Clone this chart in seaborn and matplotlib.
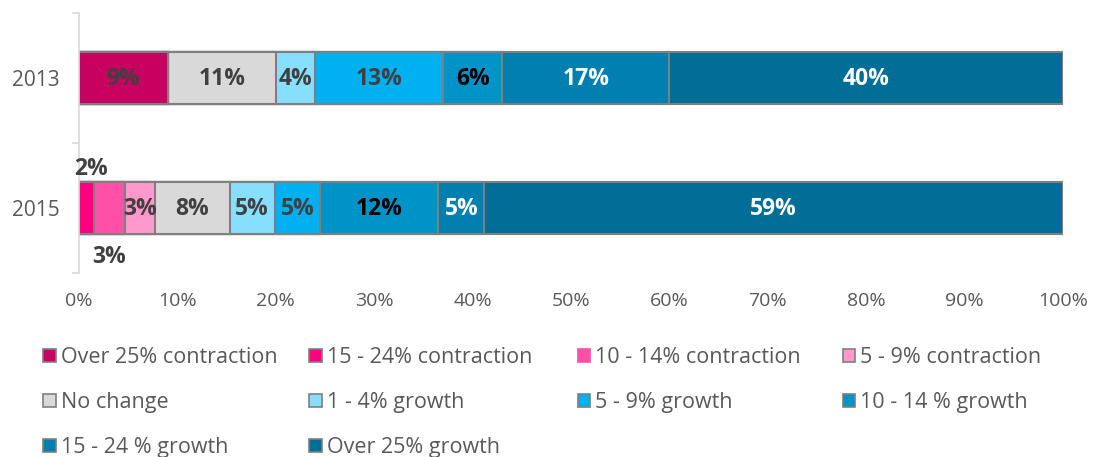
import numpy as np
import pandas as pd
import matplotlib
matplotlib.use("Agg")
import matplotlib.pyplot as plt
from matplotlib.patches import Patch
import seaborn as sns

# Survey years (rows of the chart)
years = ["2013", "2015"]

# Share of respondents per expected change band, in percent
series_names = [
    "Over 25% contraction",
    "15 - 24% contraction",
    "10 - 14% contraction",
    "5 - 9% contraction",
    "No change",
    "1 - 4% growth",
    "5 - 9% growth",
    "10 - 14 % growth",
    "15 - 24 % growth",
    "Over 25% growth",
]
values_2013 = [9, 0, 0, 0, 11, 4, 13, 6, 17, 40]
values_2015 = [0, 1.5, 3.2, 3.0, 7.6, 4.6, 4.6, 12.0, 4.7, 58.8]

colors = [
    "#C8005F", "#FF0080", "#FF4FA7", "#FF99CC", "#D9D9D9",
    "#87DFFF", "#00B0F0", "#0093C8", "#0080B0", "#006E96",
]
label_colors = [
    "#404040", "#404040", "#404040", "#404040", "#404040",
    "#404040", "#404040", "#000000", "#FFFFFF", "#FFFFFF",
]
xtick_values = list(range(0, 101, 10))

sns.set_theme(style="white")
plt.rcParams["font.family"] = ["Open Sans", "DejaVu Sans"]

fig = plt.figure(figsize=(10.95, 4.57), dpi=100)
ax = fig.add_axes([0.0722, 0.4026, 0.8986, 0.569])

vals = np.array([values_2013, values_2015], dtype=float)
cum = np.cumsum(vals, axis=1)
left = cum - vals

# Stack by layering cumulative bars, widest first
for j in range(len(series_names) - 1, -1, -1):
    df = pd.DataFrame({"year": years, "cum": cum[:, j]})
    sns.barplot(data=df, x="cum", y="year", orient="h", color=colors[j],
                saturation=1, width=0.4, edgecolor="#7F7F7F", linewidth=1.5,
                ax=ax, order=years)

# Value labels
bold = dict(fontsize=16.5, fontweight="bold", ha="center", va="center")
for i in range(len(years)):
    for j in range(len(series_names)):
        v = vals[i, j]
        if v <= 0:
            continue
        xc = left[i, j] + v / 2
        txt = f"{v:.0f}%"
        if i == 1 and j == 1:
            ax.text(xc + 0.5, i - 0.30, txt, color="#404040", **bold)
        elif i == 1 and j == 2:
            ax.text(xc, i + 0.375, txt, color="#404040", **bold)
        else:
            ax.text(xc, i + 0.01, txt, color=label_colors[j], **bold)

ax.set_xlim(0, 100)
ax.set_ylim(1.5, -0.5)
ax.set_xticks(xtick_values)
ax.set_xticklabels([f"{t}%" for t in xtick_values])
ax.set_xlabel("")
ax.set_ylabel("")
ax.tick_params(axis="x", length=0, pad=14, labelsize=14, labelcolor="#595959")
ax.tick_params(axis="y", which="major", length=0, pad=14, labelsize=15,
               labelcolor="#595959")
ax.set_yticks([-0.5, 0.5, 1.5], minor=True)
ax.tick_params(axis="y", which="minor", length=5, width=1.2, color="#D9D9D9",
               left=True)
for s in ["top", "right", "bottom"]:
    ax.spines[s].set_visible(False)
ax.spines["left"].set_color("#D9D9D9")
ax.spines["left"].set_linewidth(1.2)

# Legend: four equal-width columns, filled row by row
handles = [Patch(facecolor=c, edgecolor="#7F7F7F", linewidth=1.2) for c in colors]
handles[2] = Patch(facecolor=colors[2], edgecolor=colors[2], linewidth=1.2)
col_x = [0.0395, 0.2825, 0.5275, 0.7695]
for c in range(4):
    idx = list(range(c, len(series_names), 4))
    fig.legend([handles[k] for k in idx], [series_names[k] for k in idx],
               loc="upper left", bbox_to_anchor=(col_x[c], 0.240),
               frameon=False, fontsize=15.5, labelcolor="#595959",
               handlelength=0.58, handleheight=0.58, handletextpad=0.25,
               labelspacing=1.11, borderaxespad=0, borderpad=0)

fig.savefig("out.png", dpi=100)
